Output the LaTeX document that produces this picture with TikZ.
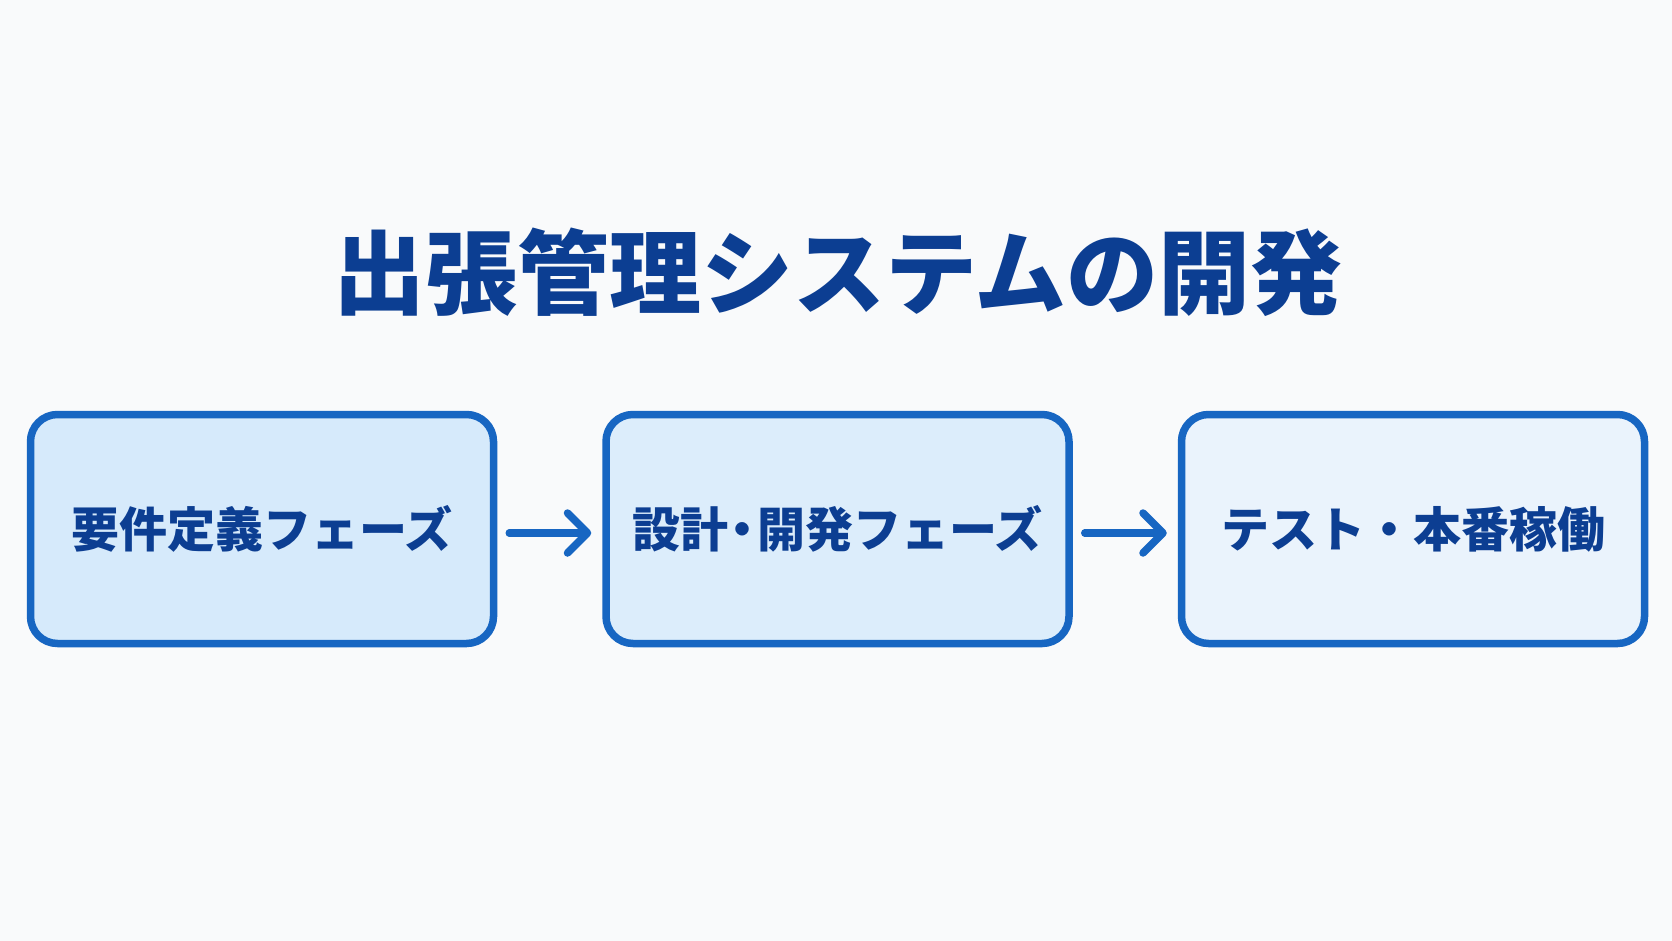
\documentclass[tikz,border=0pt]{standalone}
\usepackage{fontspec}
\newfontfamily\jp{Noto Sans CJK JP}
\usetikzlibrary{arrows.meta,positioning}
\definecolor{titleblue}{HTML}{0C3E92}
\definecolor{edgeblue}{HTML}{1766C2}
\definecolor{pagebg}{HTML}{F9FAFB}
\definecolor{fillone}{HTML}{D6EAFB}
\definecolor{filltwo}{HTML}{DCEDFB}
\definecolor{fillthree}{HTML}{EAF3FC}

\begin{document}
\begin{tikzpicture}[x=1pt,y=-1pt,
    phase/.style={draw=edgeblue, line width=7.5pt, rounded corners=27pt,
      minimum width=463pt, minimum height=229pt, text=titleblue,
      font=\jp\bfseries\fontsize{48}{48}\selectfont},
    flow/.style={draw=edgeblue, line width=7.5pt, line cap=round,
      -{Straight Barb[length=20pt,width=40pt,round]}}]
  \fill[pagebg] (0,0) rectangle (1672,941);
  \useasboundingbox (0,0) rectangle (1672,941);

  \node[text=titleblue, font=\jp\bfseries\fontsize{92}{92}\selectfont] (title) at (838,272) {出張管理システムの開発};

  \node[phase, fill=fillone] (req) at (262,529) {要件定義フェーズ};
  \node[phase, fill=filltwo, right=105pt of req] (dev) {設計\kern-.2em・\kern-.2em 開発フェーズ};
  \node[phase, fill=fillthree, right=105pt of dev] (ops) {テスト・本番稼働};

  \draw[flow, shorten <=12pt, shorten >=11pt] ([yshift=-4pt]req.east) -- ([yshift=-4pt]dev.west);
  \draw[flow, shorten <=12pt, shorten >=11pt] ([yshift=-4pt]dev.east) -- ([yshift=-4pt]ops.west);
\end{tikzpicture}
\end{document}
